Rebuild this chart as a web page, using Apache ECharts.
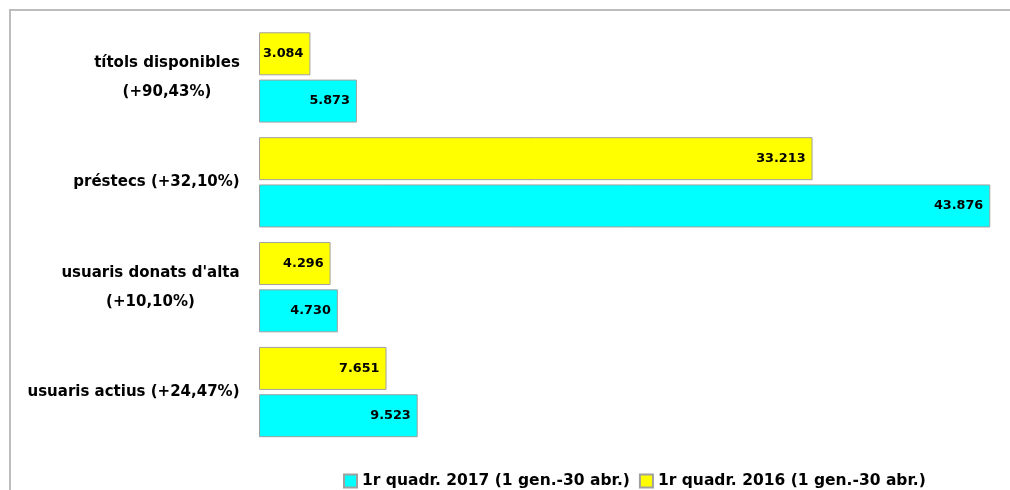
<!DOCTYPE html>
<html>
<head>
<meta charset="utf-8">
<script src="https://cdn.jsdelivr.net/npm/echarts@6/dist/echarts.min.js"></script>
<style>
  html, body { margin: 0; padding: 0; background: #fff; }
  #chart { width: 1010px; height: 490px; }
</style>
</head>
<body>
<div id="chart"></div>
<script>
// dades
const categories = [
  'títols disponibles\n(+90,43%)',
  'préstecs (+32,10%)',
  "usuaris donats d'alta\n(+10,10%)",
  'usuaris actius (+24,47%)'
];
const seriesNames = ['1r quadr. 2016 (1 gen.-30 abr.)', '1r quadr. 2017 (1 gen.-30 abr.)'];
const values2016 = [3084, 33213, 4296, 7651];
const values2017 = [5873, 43876, 4730, 9523];

const FONT = '"DejaVu Sans", Verdana, sans-serif';

// separador de milers amb punt
function fmt(v) {
  return String(v).replace(/\B(?=(\d{3})+(?!\d))/g, '.');
}

// amplada de cada etiqueta (per centrar les línies)
const ctx = document.createElement('canvas').getContext('2d');
ctx.font = 'bold 15px ' + FONT;
const rich = {};
categories.forEach((c, i) => {
  let w = 0;
  c.split('\n').forEach(l => { w = Math.max(w, ctx.measureText(l).width); });
  rich['c' + i] = { width: Math.ceil(w), align: 'center', fontFamily: FONT, fontWeight: 'bold', fontSize: 15, lineHeight: 29, color: '#000' };
});

const chart = echarts.init(document.getElementById('chart'));

const barLabel = {
  show: true,
  position: 'insideRight',
  distance: 7,
  color: '#000',
  fontFamily: FONT,
  fontWeight: 'bold',
  fontSize: 12.8,
  formatter: p => fmt(p.value)
};

chart.setOption({
  animation: false,
  graphic: [{
    type: 'rect',
    shape: { x: 10, y: 10, width: 1010, height: 500 },
    style: { fill: 'none', stroke: '#bdbdbd', lineWidth: 2 },
    silent: true
  }],
  grid: { left: 259, right: 1, top: 25, bottom: 45.5 },
  legend: {
    data: [seriesNames[1], seriesNames[0]],
    left: 338,
    top: 468,
    itemWidth: 13,
    itemHeight: 13,
    itemGap: 9,
    icon: 'rect',
    textStyle: { fontFamily: FONT, fontWeight: 'bold', fontSize: 15.5, color: '#000' }
  },
  xAxis: {
    type: 'value',
    min: 0,
    max: 45000,
    show: false
  },
  yAxis: {
    type: 'category',
    inverse: true,
    data: categories,
    axisLine: { show: false },
    axisTick: { show: false },
    splitLine: { show: false },
    axisLabel: {
      margin: 19,
      rich: rich,
      formatter: (v, i) => v.split('\n').map(l => '{c' + i + '|' + l + '}').join('\n')
    }
  },
  series: [
    {
      name: seriesNames[0],
      type: 'bar',
      data: values2016,
      barWidth: 43,
      barGap: '10%',
      itemStyle: { color: '#ffff00', borderColor: '#a0a0a0', borderWidth: 1 },
      label: barLabel
    },
    {
      name: seriesNames[1],
      type: 'bar',
      data: values2017,
      barWidth: 43,
      barGap: '10%',
      itemStyle: { color: '#00ffff', borderColor: '#a0a0a0', borderWidth: 1 },
      label: barLabel
    }
  ]
});
</script>
</body>
</html>
